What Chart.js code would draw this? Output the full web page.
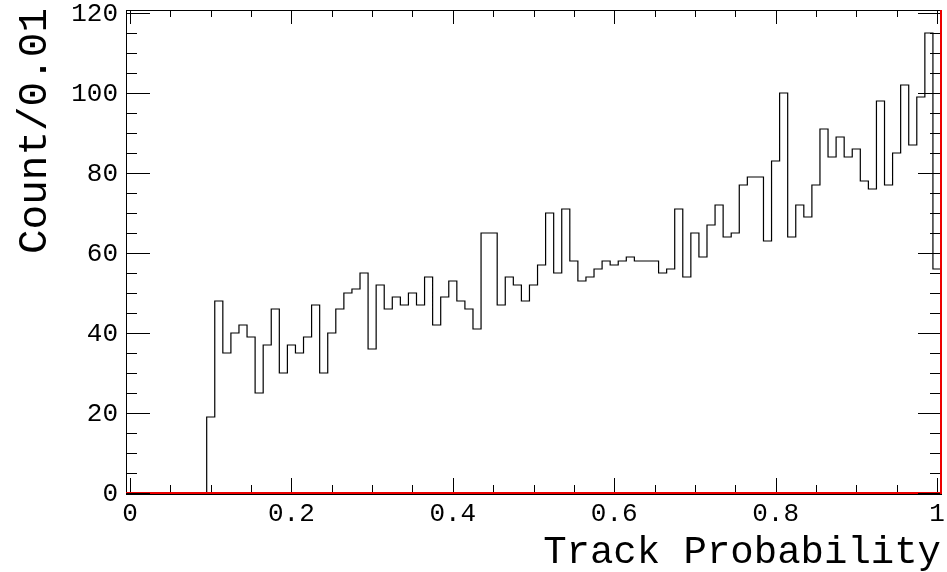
<!DOCTYPE html>
<html>
<head>
<meta charset="utf-8">
<script src="https://cdn.jsdelivr.net/npm/chart.js@4/dist/chart.umd.min.js"></script>
<style>
    html, body { margin: 0; padding: 0; background: #fff; }
    canvas { display: block; }
</style>
</head>
<body>
<canvas id="histChart" width="947" height="572"></canvas>
<script>
// histogram: 101 bins of width 0.01, first bin starts at -0.005
var binLow = -0.005;
var binWidth = 0.01;
var counts = [
    0, 0, 0, 0, 0, 0, 0, 0, 0, 0,
    19, 48, 35, 40, 42, 39, 25, 37, 46, 30,
    37, 35, 39, 47, 30, 40, 46, 50, 51, 55,
    36, 52, 46, 49, 47, 50, 47, 54, 42, 49,
    53, 48, 46, 41, 65, 65, 47, 54, 52, 48,
    52, 57, 70, 55, 71, 58, 53, 54, 56, 58,
    57, 58, 59, 58, 58, 58, 55, 56, 71, 54,
    65, 59, 67, 72, 64, 65, 77, 79, 79, 63,
    83, 100, 64, 72, 69, 77, 91, 84, 89, 84,
    86, 78, 76, 98, 77, 85, 102, 87, 99, 115,
    56
];

var xMin = -0.005, xMax = 1.005;
var yMin = 0, yMax = 120.75;

var xTickValues = [0, 0.2, 0.4, 0.6, 0.8, 1];
var xTickLabels = ['0', '0.2', '0.4', '0.6', '0.8', '1'];
var xMinorStep = 0.05;
var yTickValues = [0, 20, 40, 60, 80, 100, 120];
var yTickLabels = ['0', '20', '40', '60', '80', '100', '120'];
var yMinorStep = 5;

var xTitle = 'Track Probability';
var yTitle = 'Count/0.01';

// step points at bin low edges, plus closing point at the last high edge
var histPoints = [];
for (var i = 0; i < counts.length; i++) {
    histPoints.push({ x: binLow + i * binWidth, y: counts[i] });
}
histPoints.push({ x: binLow + counts.length * binWidth, y: counts[counts.length - 1] });

// red line along zero and up the right edge
var redPoints = [
    { x: xMin, y: 0 },
    { x: xMax, y: 0 },
    { x: xMax, y: yMax }
];

var FONT = '"Liberation Mono", "DejaVu Sans Mono", monospace';

var rootAxes = {
    id: 'rootAxes',
    beforeDatasetsDraw: function (chart) {
        var ctx = chart.ctx;
        var a = chart.chartArea;
        ctx.save();
        ctx.strokeStyle = '#000';
        ctx.lineWidth = 1;
        ctx.strokeRect(Math.round(a.left) + 0.5, Math.round(a.top) + 0.5,
            Math.round(a.right - a.left), Math.round(a.bottom - a.top) + 1);
        ctx.restore();
    },
    afterDatasetsDraw: function (chart) {
        var ctx = chart.ctx;
        var a = chart.chartArea;
        var xs = chart.scales.x;
        var ys = chart.scales.y;
        var v, px, py, k;

        ctx.save();
        ctx.strokeStyle = '#000';
        ctx.lineWidth = 1;
        ctx.beginPath();
        // x ticks, bottom and top
        for (k = 0; k <= Math.round(1 / xMinorStep); k++) {
            v = k * xMinorStep;
            px = Math.round(xs.getPixelForValue(v)) + 0.5;
            var isMajorX = Math.abs(v / 0.2 - Math.round(v / 0.2)) < 1e-6;
            var lx = isMajorX ? 14 : 7;
            ctx.moveTo(px, a.bottom - 1);
            ctx.lineTo(px, a.bottom - 1 - lx);
            ctx.moveTo(px, a.top);
            ctx.lineTo(px, a.top + lx);
        }
        // y ticks, left and right
        for (k = 0; k <= Math.round(120 / yMinorStep); k++) {
            v = k * yMinorStep;
            py = Math.round(ys.getPixelForValue(v)) + 0.5;
            var isMajorY = v % 20 === 0;
            ctx.moveTo(a.left, py);
            ctx.lineTo(a.left + (isMajorY ? 24 : 11), py);
            ctx.moveTo(a.right - 1, py);
            ctx.lineTo(a.right - 1 - (isMajorY ? 22 : 10), py);
        }
        ctx.stroke();

        // tick labels
        ctx.fillStyle = '#000';
        ctx.font = '26px ' + FONT;
        ctx.textAlign = 'center';
        ctx.textBaseline = 'top';
        for (k = 0; k < xTickValues.length; k++) {
            ctx.fillText(xTickLabels[k], xs.getPixelForValue(xTickValues[k]), a.bottom + 8);
        }
        ctx.textAlign = 'right';
        ctx.textBaseline = 'middle';
        for (k = 0; k < yTickValues.length; k++) {
            ctx.fillText(yTickLabels[k], a.left - 8, ys.getPixelForValue(yTickValues[k]) + 1);
        }

        // axis titles
        ctx.textAlign = 'right';
        ctx.textBaseline = 'alphabetic';
        ctx.font = '39px ' + FONT;
        ctx.fillText(xTitle, a.right, 563);

        ctx.font = '41px ' + FONT;
        ctx.translate(46, a.top - 2);
        ctx.rotate(-Math.PI / 2);
        ctx.fillText(yTitle, 0, 0);
        ctx.restore();
    }
};

var myChart = new Chart(document.getElementById('histChart').getContext('2d'), {
    type: 'line',
    data: {
        datasets: [
            {
                label: 'zero',
                data: redPoints,
                borderColor: '#ee0000',
                borderWidth: 2,
                pointRadius: 0,
                fill: false,
                clip: 4
            },
            {
                label: 'hist',
                data: histPoints,
                stepped: 'before',
                borderColor: '#000',
                borderWidth: 1.2,
                pointRadius: 0,
                fill: false
            }
        ]
    },
    options: {
        responsive: false,
        animation: false,
        layout: { padding: { left: 126, right: 6, top: 10, bottom: 79 } },
        plugins: {
            legend: { display: false },
            tooltip: { enabled: false }
        },
        scales: {
            x: { type: 'linear', min: xMin, max: xMax, display: false },
            y: { type: 'linear', min: yMin, max: yMax, display: false }
        }
    },
    plugins: [rootAxes]
});
</script>
</body>
</html>
